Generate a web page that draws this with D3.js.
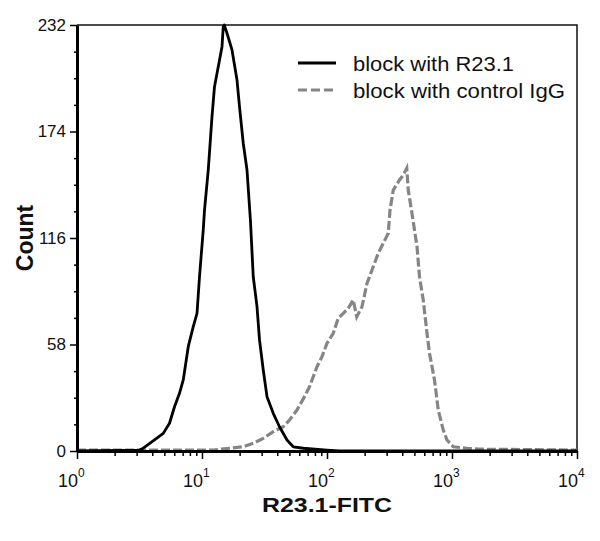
<!DOCTYPE html>
<html>
<head>
<meta charset="utf-8">
<script src="https://cdn.jsdelivr.net/npm/d3@7"></script>
<style>
  body { margin: 0; background: #fff; }
  text { font-family: "Liberation Sans", Arial, sans-serif; fill: #111; }
</style>
</head>
<body>
<div id="chart"></div>
<script>
// Histogram values: log10 of intensity, and count
const blackLog10 = [0, 0.50, 0.53, 0.62, 0.69, 0.74, 0.78, 0.82, 0.85, 0.89, 0.93, 0.96, 0.98, 1.01, 1.02, 1.05, 1.08, 1.10, 1.13, 1.16, 1.17, 1.178,
    1.20, 1.24, 1.28, 1.30, 1.33, 1.36, 1.388, 1.41, 1.44, 1.46, 1.49, 1.52, 1.57, 1.62, 1.68, 1.73, 1.81, 2.0, 2.1, 4.0];
const blackCount = [0, 0.5, 1.5, 6.0, 9.6, 15.1, 24.1, 31.4, 38.7, 56.8, 67.7, 75.0, 94.9, 120.4, 131.2, 153.0, 182.1, 198.4, 209.3, 220.2, 231.1, 232,
    227.5, 218.4, 202.0, 187.5, 167.6, 153.0, 125.0, 94.9, 78.6, 60.5, 44.1, 29.6, 20.5, 13.2, 6.0, 2.3, 1.5, 0.5, 0, 0];

const greyLog10 = [0, 0.82, 1.09, 1.22, 1.33, 1.41, 1.49, 1.57, 1.65, 1.70, 1.76, 1.82, 1.86, 1.92, 1.96, 2.00, 2.05, 2.09, 2.13, 2.17, 2.21, 2.238,
    2.28, 2.32, 2.37, 2.41, 2.45, 2.49, 2.504, 2.53, 2.58, 2.61, 2.638, 2.65, 2.68, 2.72, 2.74, 2.77, 2.80, 2.82, 2.86, 2.89, 2.93, 2.96, 3.01, 3.12, 3.22, 4.0];
const greyCount = [0.5, 0.5, 0.5, 1.5, 2.3, 4.2, 6.9, 10.5, 13.2, 16.9, 22.3, 29.6, 35.0, 45.9, 51.4, 58.7, 64.1, 72.3, 75.0, 77.7, 82.2, 73.1,
    78.6, 91.3, 100.4, 107.7, 113.1, 118.6, 131.2, 142.1, 147.6, 150.3, 154.0, 142.1, 129.4, 111.3, 94.9, 82.2, 64.1, 53.2, 38.7, 22.3, 11.4, 6.0, 2.3, 1.5, 1.0, 0.5];

const yTicks = [0, 58, 116, 174, 232];
const xTicks = [1, 10, 100, 1000, 10000];
const xTickExp = ["0", "1", "2", "3", "4"];
const seriesNames = ["block with R23.1", "block with control IgG"];

function init() {
    const w = 600, h = 541;
    const left = 77, right = 577, top = 25, bottom = 451;

    const svg = d3.select("#chart").append("svg")
        .attr("width", w)
        .attr("height", h);

    const x = d3.scaleLog().domain([1, 10000]).range([left, right]);
    const y = d3.scaleLinear().domain([0, 232]).range([bottom, top]);

    // thin top and right frame
    svg.append("path")
        .attr("d", `M${left},${top}H${right}V${bottom}`)
        .attr("fill", "none")
        .attr("stroke", "#111")
        .attr("stroke-width", 1.5);

    const line = d3.line()
        .x(d => x(Math.pow(10, d[0])))
        .y(d => y(d[1]));

    const greyData = greyLog10.map((v, i) => [v, greyCount[i]]);
    const blackData = blackLog10.map((v, i) => [v, blackCount[i]]);

    svg.append("path")
        .datum(greyData)
        .attr("d", line)
        .attr("fill", "none")
        .attr("stroke", "#858585")
        .attr("stroke-width", 3.2)
        .attr("stroke-dasharray", "9,3");

    svg.append("path")
        .datum(blackData)
        .attr("d", line)
        .attr("fill", "none")
        .attr("stroke", "#000")
        .attr("stroke-width", 2.8)
        .attr("stroke-linejoin", "round");

    // minor ticks
    const yMinor = d3.range(0, 232.1, 14.5).filter(v => !yTicks.includes(v));
    svg.append("g")
        .attr("transform", `translate(${left},0)`)
        .call(d3.axisLeft(y).tickValues(yMinor).tickSize(3).tickFormat(""))
        .call(g => g.select(".domain").remove())
        .selectAll("line").attr("stroke-width", 1.5);

    const xMinor = [];
    [1, 10, 100, 1000].forEach(dec => d3.range(2, 10).forEach(k => xMinor.push(dec * k)));
    svg.append("g")
        .attr("transform", `translate(0,${bottom})`)
        .call(d3.axisBottom(x).tickValues(xMinor).tickSize(5).tickFormat(""))
        .call(g => g.select(".domain").remove())
        .selectAll("line").attr("stroke-width", 1.5);

    // y axis
    const yAxis = svg.append("g")
        .attr("transform", `translate(${left},0)`)
        .call(d3.axisLeft(y).tickValues(yTicks).tickSize(7).tickSizeOuter(0).tickPadding(4));
    yAxis.select(".domain").attr("stroke-width", 3).attr("stroke", "#000");
    yAxis.selectAll("line").attr("stroke-width", 1.5);
    yAxis.selectAll("text")
        .attr("font-size", "17px")
        .attr("font-family", "'Liberation Sans', Arial, sans-serif")
        .attr("fill", "#111");

    // x axis
    const xAxis = svg.append("g")
        .attr("transform", `translate(0,${bottom})`)
        .call(d3.axisBottom(x).tickValues(xTicks).tickSize(8).tickSizeOuter(0).tickFormat(""));
    xAxis.select(".domain").attr("stroke-width", 3).attr("stroke", "#000");
    xAxis.selectAll("line").attr("stroke-width", 1.5);

    // tick labels: "10" just left of the tick, exponent raised to its right
    xTicks.forEach((t, i) => {
        const lab = svg.append("text")
            .attr("x", x(t) - 19)
            .attr("y", 487)
            .attr("font-size", "18px");
        lab.append("tspan").text("10");
        lab.append("tspan")
            .attr("dy", -10)
            .attr("font-size", "12px")
            .text(xTickExp[i]);
    });

    // axis titles
    svg.append("text")
        .attr("x", (left + right) / 2)
        .attr("y", 512)
        .attr("text-anchor", "middle")
        .attr("font-size", "21px")
        .attr("font-weight", "bold")
        .attr("textLength", 130)
        .attr("lengthAdjust", "spacingAndGlyphs")
        .text("R23.1-FITC");

    svg.append("text")
        .attr("transform", `translate(33,${(top + bottom) / 2}) rotate(-90)`)
        .attr("text-anchor", "middle")
        .attr("font-size", "23px")
        .attr("font-weight", "bold")
        .text("Count");

    // legend
    const legend = svg.append("g");
    const styles = [
        { stroke: "#000", dash: null, width: 2.8 },
        { stroke: "#858585", dash: "9,4", width: 3.2 }
    ];
    seriesNames.forEach((name, i) => {
        const ly = 63 + i * 27;
        legend.append("line")
            .attr("x1", 298).attr("x2", 336)
            .attr("y1", ly).attr("y2", ly)
            .attr("stroke", styles[i].stroke)
            .attr("stroke-width", styles[i].width)
            .attr("stroke-dasharray", styles[i].dash);
        legend.append("text")
            .attr("x", 353)
            .attr("y", ly + 8)
            .attr("font-size", "20px")
            .attr("textLength", i === 0 ? 161 : 212)
            .attr("lengthAdjust", "spacingAndGlyphs")
            .text(name);
    });
}

window.onload = init;
</script>
</body>
</html>
